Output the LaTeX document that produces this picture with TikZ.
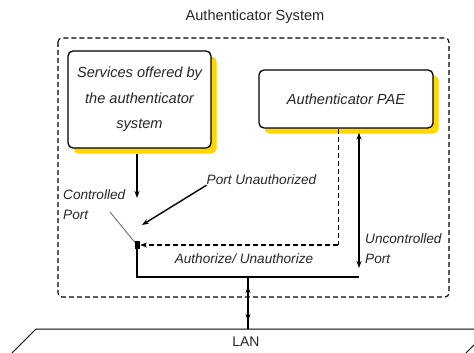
\documentclass[tikz,border=0pt]{standalone}
\usepackage{fontspec}
\setmainfont{Liberation Sans}
\usetikzlibrary{arrows.meta,shadows}
\definecolor{gold}{RGB}{255,214,0}
\definecolor{leadercol}{RGB}{100,98,80}
\tikzset{
  pbox/.style={draw, line width=1.3pt, rounded corners=5pt, fill=white, inner sep=0pt,
    align=center, text=black!85, font=\fontsize{14.6}{25.5}\selectfont\itshape,
    drop shadow={shadow xshift=5.5pt, shadow yshift=-5.5pt, fill=gold, opacity=1}},
  lbl/.style={inner sep=0pt, text=black!85, font=\fontsize{13.6}{19.5}\selectfont\itshape},
  wire/.style={line width=1.4pt},
  tip/.style={-{Stealth[length=7pt,width=5pt]}},
  tips/.style={{Stealth[length=7pt,width=5pt]}-{Stealth[length=7pt,width=5pt]}},
  dsh/.style={dash pattern=on 5pt off 3pt}
}
\begin{document}
\begin{tikzpicture}[x=1pt,y=-1pt]
  \useasboundingbox (0,0) rectangle (474,353);
  \clip (0,0) rectangle (474,353);
  \node[inner sep=0pt, text=black!85, font=\fontsize{14.6}{17}\selectfont] (title) at (255,17) {Authenticator System};
  \draw[dsh, line width=1.1pt, rounded corners=4pt] (58,38) rectangle (449,297);
  \node[pbox, minimum width=143pt, minimum height=97pt] (svc) at (139.5,99.5) {Services offered by\\the authenticator\\system};
  \node[pbox, minimum width=174pt, minimum height=58pt] (pae) at (346,99) {Authenticator PAE};
  \node[lbl, anchor=west, align=left] (ctrl) at (63,204.5) {Controlled\\Port};
  \node[lbl, anchor=west, align=left] (unctrl) at (365,248.5) {Uncontrolled\\Port};
  \node[lbl] (punauth) at (261.5,180) {Port Unauthorized};
  \node[lbl] (auth) at (244,259) {Authorize/ Unauthorize};
  \node[lbl, font=\fontsize{13.9}{17}\selectfont] (lan) at (246,342) {LAN};
  \coordinate (sw) at (137,245);
  \coordinate (svcin) at (137,198);
  \coordinate (dcorner) at (338,245);
  \coordinate (bright) at (359,277);
  \coordinate (tap) at (248,277);
  \coordinate (lantop) at (248,329);
  \coordinate (putip) at (142,225);
  \coordinate (ctrlfoot) at (110,212);
  \draw[wire, tip] ([yshift=-5pt]svc.south -| sw) -- (svcin);
  \draw[dsh, line width=0.9pt] (pae.south -| dcorner) -- (dcorner);
  \draw[dsh, wire, tip] (dcorner) -- ([xshift=3pt]sw);
  \draw[wire] (sw) |- (bright);
  \draw[wire, tips, shorten <=9pt, shorten >=4pt] (bright) -- (pae.south -| bright);
  \draw[wire] (tap) -- (lantop);
  \draw[wire, tips, shorten <=9pt, shorten >=8pt] (tap) -- (lantop);
  \draw[wire, tip] (punauth.south west) -- (putip);
  \draw[leadercol, line width=0.8pt] (ctrlfoot) -- (sw);
  \fill (135,241) rectangle (140,249);
  \draw[line width=1pt] (12,353) -- (36,329) -- (490,329) -- (466,353);
\end{tikzpicture}
\end{document}
